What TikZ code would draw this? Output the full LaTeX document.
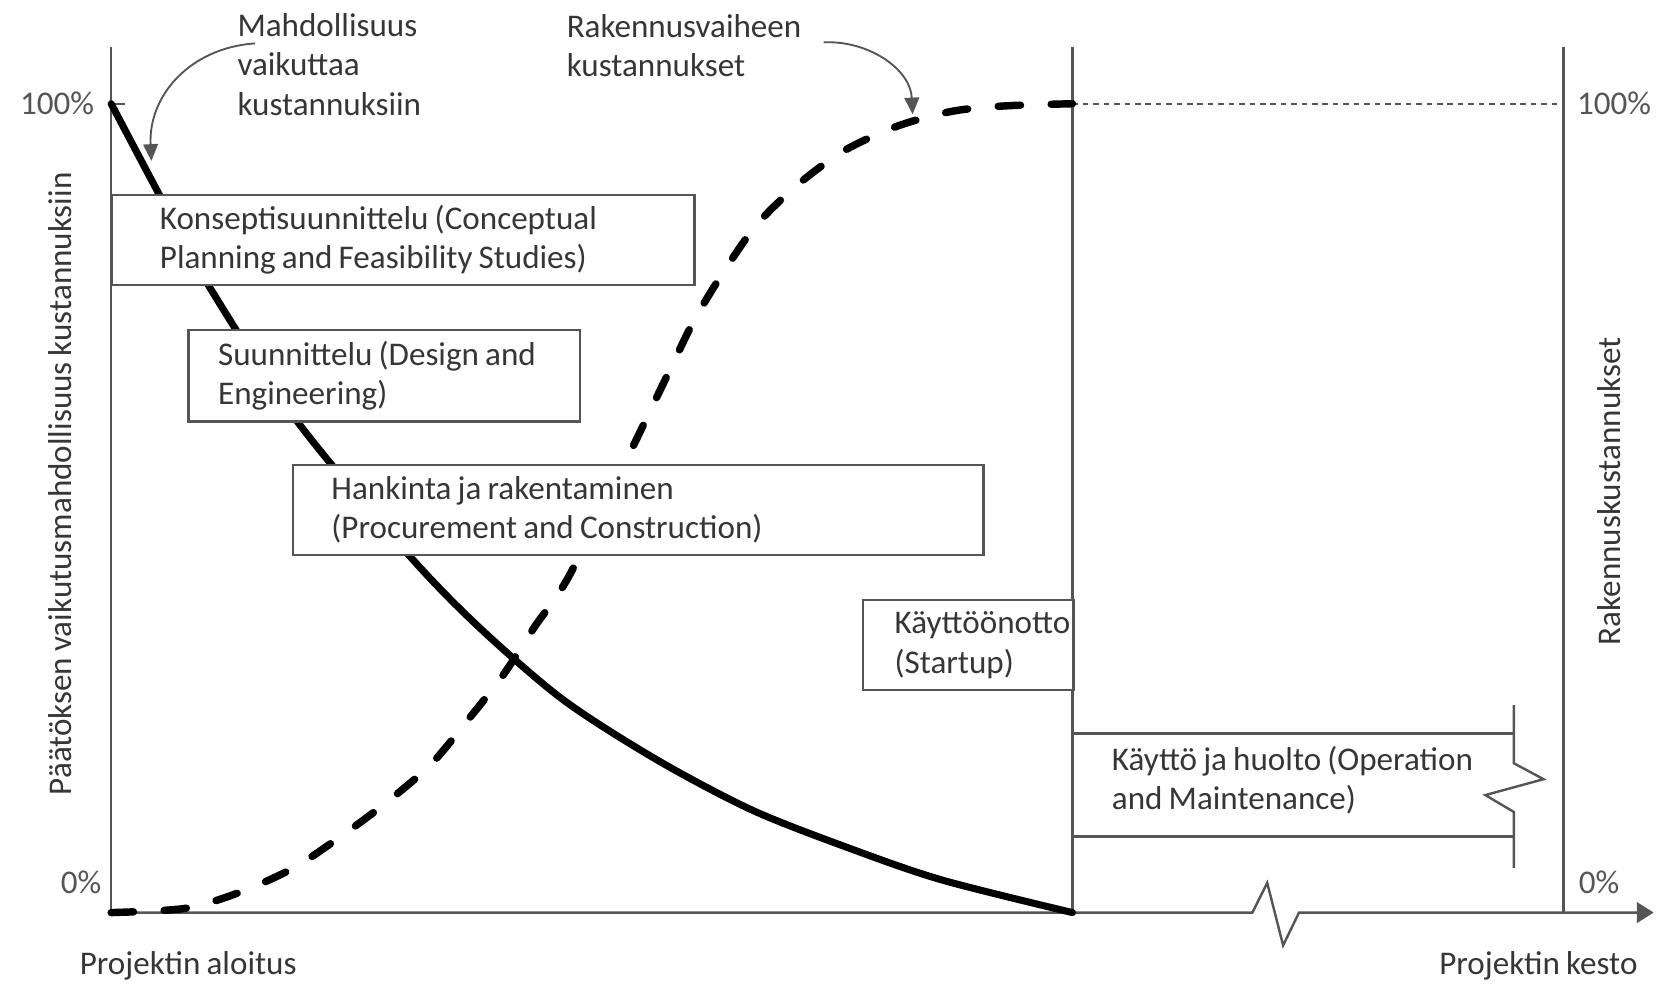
\documentclass[tikz,border=0pt]{standalone}
\usepackage{fontspec}
\setmainfont{Carlito}[WordSpace=0.82]
\usepackage{tikz}
\usetikzlibrary{arrows.meta, positioning}
\definecolor{inkgray}{HTML}{363636}
\definecolor{axisgray}{HTML}{555555}
\tikzstyle{frameline} = [draw=axisgray, line width=1.3pt]
\tikzstyle{phase} = [rectangle, draw=axisgray, line width=1.2pt, fill=white, anchor=north west, align=flush left, inner sep=0pt]
\tikzstyle{txt} = [align=left, anchor=west, inner sep=0pt]
\tikzstyle{pct} = [text=axisgray, inner sep=0pt]
\tikzstyle{influence} = [line width=3.8pt, line cap=round, line join=round]
\tikzstyle{costs} = [line width=4pt, line cap=round, dash pattern=on 12pt off 16.5pt]
\tikzstyle{pointer} = [draw=axisgray, line width=1pt, -{Triangle[length=9pt,width=8pt]}]

\begin{document}
\begin{tikzpicture}[x=0.02cm, y=-0.02cm, font=\fontsize{17.8}{21.3}\selectfont, text=inkgray]
	\useasboundingbox (0,0) rectangle (1568,929);

	% frame of the chart
	\coordinate (origin) at (105,862);
	\coordinate (ltop) at (105,44);
	\coordinate (mtop) at (1013,44);
	\coordinate (mbot) at (1013,862);
	\coordinate (rtop) at (1477,44);
	\coordinate (rbot) at (1477,862);
	\coordinate (fulll) at (105,98);
	\coordinate (fullm) at (1013,98);
	\coordinate (fullr) at (1477,98);
	\coordinate (xend) at (1562,862);

	\draw [frameline] (ltop) -- (origin);
	\draw [frameline] (mtop) -- (mbot);
	\draw [frameline] (rtop) -- (rbot);
	\draw [frameline] (fulll) -- ++(13,0);
	\draw [frameline, line width=1.2pt, dash pattern=on 3pt off 2.6pt] (fullm) -- (fullr);
	\draw [frameline, -{Triangle[length=9pt,width=11pt]}] (origin) -- (1183,862) -- (1197,834) -- (1212,893) -- (1227,862) -- (xend);

	% curves
	\draw [influence] plot [smooth] coordinates {(105,98) (150,183) (196,268) (280,397) (385,523) (452,592) (532,661) (621,718) (710,765) (799,800) (889,831) (1013,862)};
	\draw [costs] plot [smooth] coordinates {(105,862) (175,858) (226,843) (277,820) (322,790) (365,758) (407,722) (442,680) (475,638) (505,592) (537,545) (590,438) (632,351) (656,302) (684,256) (715,212) (754,174) (798,142) (848,119) (900,105) (950,100) (1013,98)};

	% phases
	\node (concept) [phase, minimum width=11cm, minimum height=1.7cm, text width=9.2cm] at (105,183) {Konseptisuunnittelu (Conceptual\\Planning and Feasibility Studies)};
	\node (design) [phase, minimum width=7.4cm, minimum height=1.72cm, text width=6.28cm] at (177,311) {Suunnittelu (Design and\\Engineering)};
	\node (construct) [phase, minimum width=13.04cm, minimum height=1.7cm, text width=11.6cm] at (276,438) {Hankinta ja rakentaminen\\(Procurement and Construction)};
	\node (startup) [phase, minimum width=3.98cm, minimum height=1.7cm, text width=2.78cm] at (814,566) {Käyttöönotto\\(Startup)};
	\node (operation) [txt] at (1050,737) {Käyttö ja huolto (Operation\\and Maintenance)};
	\draw [frameline] (1013,693) -- (1430,693);
	\draw [frameline] (1013,790) -- (1430,790);
	\draw [frameline] (1430,666) -- (1430,721) -- (1458,736) -- (1403,751) -- (1430,767) -- (1430,820);

	% axis texts
	\node (pctfulll) [pct, left=9pt of fulll] {100\%};
	\node (pctzerol) [pct, anchor=east] at (96,833) {0\%};
	\node (pctfullr) [pct, right=7pt of fullr] {100\%};
	\node (pctzeror) [pct, anchor=west] at (1491,833) {0\%};
	\node (start) [txt] at (75,912) {Projektin aloitus};
	\node (duration) [txt, anchor=east] at (1547,912) {Projektin kesto};
	\node (influencelabel) [rotate=90] at (57,457) {Päätöksen vaikutusmahdollisuus kustannuksiin};
	\node (costlabel) [rotate=90] at (1520,464) {Rakennuskustannukset};

	% notes
	\node (influencenote) [txt] at (224,61) {Mahdollisuus\\vaikuttaa\\kustannuksiin};
	\node (costnote) [txt] at (535,43) {Rakennusvaiheen\\kustannukset};
	\coordinate (influencetail) at (241,41);
	\coordinate (influencetip) at (143,152);
	\coordinate (costtail) at (778,40);
	\coordinate (costtip) at (862,108);
	\draw [pointer] (influencetail) .. controls (180,45) and (140,90) .. (influencetip);
	\draw [pointer] (costtail) .. controls (820,38) and (860,65) .. (costtip);

\end{tikzpicture}
\end{document}
